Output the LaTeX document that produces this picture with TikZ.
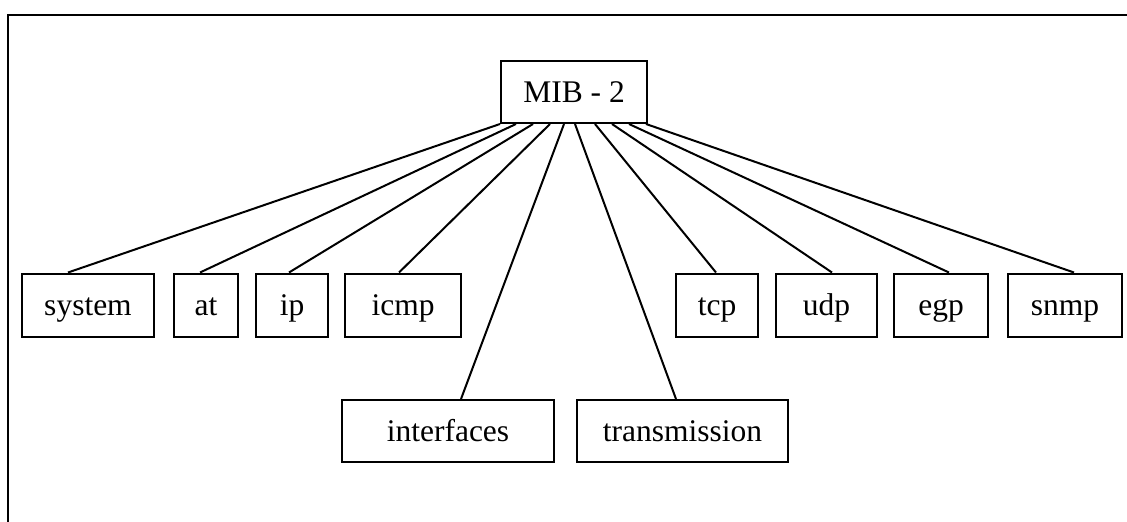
\documentclass[tikz,border=0pt]{standalone}
\usepackage{fontspec}
\setmainfont{Liberation Serif}
\begin{document}
\begin{tikzpicture}[x=1pt,y=-1pt,
  box/.style={draw,line width=2pt,inner sep=0pt,minimum height=63pt,
    text height=22pt,text depth=2pt,
    font=\fontsize{31.5}{36}\selectfont},
  link/.style={line width=2pt}]
\useasboundingbox (0,0) rectangle (1127,522);
% frame edges
\draw[line width=2.2pt] (1127,15) -- (8,15) -- (8,522);
% root
\node[box,minimum width=146pt,minimum height=62pt] (mib) at (574,92) {MIB - 2};
% first level groups
\node[box,minimum width=132pt] (system) at (88,305) {system};
\node[box,minimum width=64pt]  (at)     at (206,305) {at};
\node[box,minimum width=72pt]  (ip)     at (292,305) {ip};
\node[box,minimum width=116pt] (icmp)   at (403,305) {icmp};
\node[box,minimum width=82pt]  (tcp)    at (717,305) {tcp};
\node[box,minimum width=101pt] (udp)    at (826.5,305) {udp};
\node[box,minimum width=94pt]  (egp)    at (941,305) {egp};
\node[box,minimum width=114pt] (snmp)   at (1065,305) {snmp};
\node[box,minimum width=212pt,minimum height=62pt] (interfaces)   at (448,431) {interfaces};
\node[box,minimum width=211pt,minimum height=62pt] (transmission) at (682.5,431) {transmission};
% connectors from the root
\draw[link] ([xshift=0pt]mib.south west)   -- ([xshift=-20pt]system.north);
\draw[link] ([xshift=16pt]mib.south west)  -- ([xshift=-6pt]at.north);
\draw[link] ([xshift=33pt]mib.south west)  -- ([xshift=-3pt]ip.north);
\draw[link] ([xshift=50pt]mib.south west)  -- ([xshift=-4pt]icmp.north);
\draw[link] ([xshift=64pt]mib.south west)  -- ([xshift=13pt]interfaces.north);
\draw[link] ([xshift=75pt]mib.south west)  -- ([xshift=-6.5pt]transmission.north);
\draw[link] ([xshift=95pt]mib.south west)  -- ([xshift=-1pt]tcp.north);
\draw[link] ([xshift=112pt]mib.south west) -- ([xshift=5.5pt]udp.north);
\draw[link] ([xshift=129pt]mib.south west) -- ([xshift=8pt]egp.north);
\draw[link] ([xshift=146pt]mib.south west) -- ([xshift=9pt]snmp.north);
\end{tikzpicture}
\end{document}
